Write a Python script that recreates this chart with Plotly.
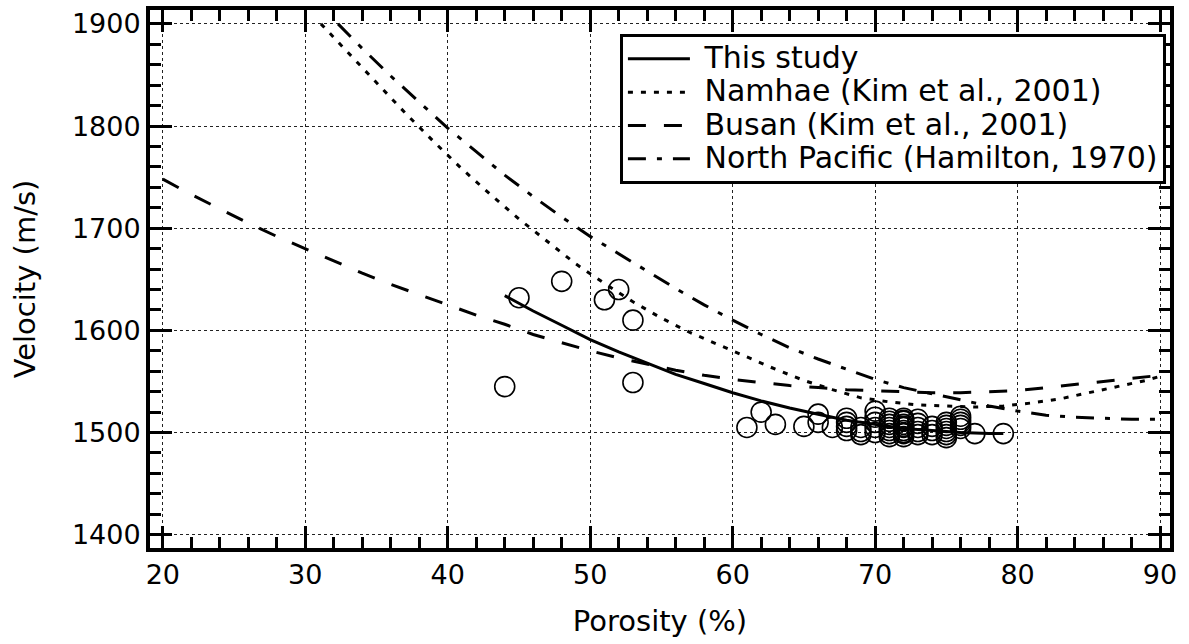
import plotly.graph_objects as go

# Measured samples (porosity %, velocity m/s)
porosity_pts = [44, 45, 48, 51, 52, 53, 53,
                61, 62, 63, 65, 66, 66, 67,
                68, 68, 68, 68,
                69, 69, 69,
                70, 70, 70, 70, 70,
                71, 71, 71, 71, 71, 71, 71,
                72, 72, 72, 72, 72, 72, 72, 72, 72, 72,
                73, 73, 73, 73, 73,
                74, 74, 74,
                75, 75, 75, 75, 75, 75,
                76, 76, 76, 76, 76,
                77, 79]
velocity_pts = [1545, 1632, 1648, 1630, 1640, 1610, 1549,
                1505, 1520, 1508, 1506, 1518, 1510, 1505,
                1514, 1510, 1506, 1502,
                1505, 1501, 1498,
                1521, 1515, 1510, 1505, 1500,
                1514, 1511, 1508, 1505, 1502, 1499, 1496,
                1514, 1511, 1508, 1505, 1502, 1499, 1496, 1512, 1506, 1500,
                1513, 1509, 1505, 1501, 1498,
                1506, 1502, 1498,
                1510, 1507, 1504, 1501, 1498, 1495,
                1516, 1513, 1510, 1507, 1504,
                1499, 1499]

# This study regression curve
study_x = [44, 46, 48, 50, 52, 54, 56, 58, 60, 62, 64, 66, 68, 70, 72, 74, 76, 78, 79]
study_y = [1634, 1619, 1605, 1591, 1579, 1568, 1557, 1548, 1539, 1531, 1524, 1518, 1512, 1508, 1504, 1502, 1500, 1499, 1499]

# Namhae (Kim et al., 2001)
namhae_x = [31.1, 33, 35, 37, 39, 41, 43, 45, 47, 49, 51, 53, 55, 57, 59, 61, 63, 65, 67, 69, 71, 73, 75, 77, 79, 81, 83, 85, 87, 89, 90]
namhae_y = [1900, 1872, 1842, 1813, 1785, 1758, 1733, 1709, 1687, 1665, 1646, 1628, 1612, 1598, 1586, 1574, 1562, 1551, 1542, 1534, 1530, 1527, 1526, 1525, 1526, 1529, 1533, 1539, 1545, 1551, 1555]

# Busan (Kim et al., 2001)
busan_x = [20, 22, 24, 26, 28, 30, 32, 34, 36, 38, 40, 42, 44, 46, 48, 50, 52, 54, 56, 58, 60, 62, 64, 66, 68, 70, 72, 74, 76, 78, 80, 82, 84, 86, 88, 90]
busan_y = [1748, 1733, 1719, 1705, 1692, 1680, 1668, 1656, 1645, 1635, 1625, 1615, 1606, 1596, 1588, 1580, 1573, 1567, 1561, 1556, 1552, 1549, 1546, 1544, 1542, 1541, 1540, 1539, 1539, 1540, 1541, 1544, 1547, 1550, 1553, 1556]

# North Pacific (Hamilton, 1970)
hamilton_x = [32.3, 34, 36, 38, 40, 42, 44, 46, 48, 50, 52, 54, 56, 58, 60, 62, 64, 66, 68, 70, 72, 74, 76, 78, 80, 82, 84, 86, 88, 90]
hamilton_y = [1900, 1876, 1849, 1823, 1798, 1775, 1752, 1731, 1711, 1692, 1675, 1658, 1641, 1625, 1610, 1596, 1583, 1572, 1562, 1552, 1544, 1538, 1532, 1526, 1521, 1517, 1515, 1514, 1513, 1513]

legend_names = ["This study", "Namhae (Kim et al., 2001)", "Busan (Kim et al., 2001)", "North Pacific (Hamilton, 1970)"]

FONT = "DejaVu Sans"
LEG_TXT = 30


def lab(s):
    return f'<span style="font-size:{LEG_TXT}px">&nbsp;{s}</span>'


fig = go.Figure()

fig.add_trace(go.Scatter(
    x=porosity_pts, y=velocity_pts, mode="markers", showlegend=False,
    marker=dict(symbol="circle", size=20, color="rgba(0,0,0,0)",
                line=dict(color="black", width=1.6)),
    hoverinfo="x+y"))

fig.add_trace(go.Scatter(x=study_x, y=study_y, mode="lines", name=lab(legend_names[0]),
                         line=dict(color="black", width=3)))
fig.add_trace(go.Scatter(x=namhae_x, y=namhae_y, mode="lines", name=lab(legend_names[1]),
                         line=dict(color="black", width=3, dash="5px,8px")))
fig.add_trace(go.Scatter(x=busan_x, y=busan_y, mode="lines", name=lab(legend_names[2]),
                         line=dict(color="black", width=3, dash="18px,18px")))
fig.add_trace(go.Scatter(x=hamilton_x, y=hamilton_y, mode="lines", name=lab(legend_names[3]),
                         line=dict(color="black", width=3, dash="18px,11px,5px,11px")))

axis_common = dict(
    showline=True, linecolor="black", linewidth=4, mirror="ticks",
    ticks="inside", ticklen=22, tickwidth=3, tickcolor="black",
    showgrid=True, gridcolor="#222", gridwidth=1, griddash="dot",
    zeroline=False,
    tickfont=dict(family=FONT, size=27, color="black"),
)

fig.update_xaxes(
    range=[19.1, 90.7], tick0=0, dtick=10,
    minor=dict(dtick=2, ticks="inside", ticklen=11, tickwidth=3, tickcolor="black", showgrid=False),
    title=dict(text="Porosity (%)", font=dict(family=FONT, size=29, color="black"), standoff=22),
    **axis_common)
fig.update_yaxes(
    range=[1387, 1913.6], tick0=0, dtick=100,
    minor=dict(dtick=20, ticks="inside", ticklen=11, tickwidth=3, tickcolor="black", showgrid=False),
    title=dict(text="Velocity (m/s)", font=dict(family=FONT, size=29, color="black"), standoff=29),
    **axis_common)

fig.update_layout(
    width=1189, height=644,
    margin=dict(l=150, r=19, t=6, b=96),
    paper_bgcolor="white", plot_bgcolor="white",
    font=dict(family=FONT, color="black"),
    legend=dict(x=0.996, y=0.955, xanchor="right", yanchor="top",
                bgcolor="white", bordercolor="black", borderwidth=3,
                font=dict(family=FONT, size=23.3, color="black"),
                itemwidth=62, tracegroupgap=0),
)

fig.write_html("out.html")
